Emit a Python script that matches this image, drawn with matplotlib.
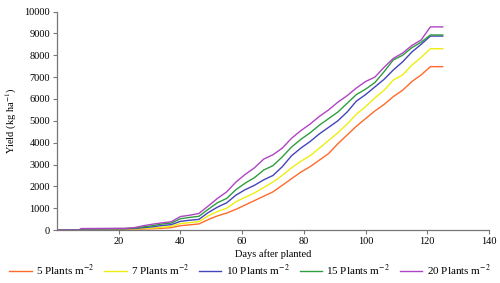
import matplotlib
matplotlib.use("Agg")
import matplotlib.pyplot as plt

days = [0, 7, 8, 22, 25, 28, 31, 34, 37, 40, 43, 46, 49, 52, 55, 58, 61, 64, 67, 70,
        73, 76, 79, 82, 85, 88, 91, 94, 97, 100, 103, 106, 109, 112, 115, 118, 121, 125]

p5 = [0, 0, 30, 40, 45, 50, 60, 80, 110, 200, 240, 280, 480, 650, 780, 950, 1150, 1350, 1550, 1750,
      2050, 2350, 2650, 2900, 3200, 3500, 3950, 4350, 4750, 5100, 5450, 5750, 6110, 6400, 6800, 7100, 7480, 7480]
p7 = [0, 0, 40, 50, 60, 75, 90, 130, 170, 300, 340, 390, 650, 850, 1000, 1300, 1500, 1700, 1950, 2200,
      2500, 2850, 3150, 3400, 3750, 4100, 4450, 4850, 5300, 5650, 6050, 6400, 6870, 7100, 7550, 7900, 8300, 8300]
p10 = [0, 0, 50, 60, 75, 110, 150, 210, 250, 400, 450, 490, 800, 1050, 1250, 1600, 1850, 2050, 2300, 2500,
       2900, 3400, 3750, 4050, 4400, 4700, 5000, 5400, 5900, 6200, 6550, 6900, 7330, 7700, 8150, 8500, 8880, 8880]
p15 = [0, 0, 60, 70, 90, 150, 200, 280, 320, 520, 580, 630, 950, 1250, 1450, 1850, 2150, 2400, 2750, 2950,
       3350, 3800, 4150, 4450, 4800, 5100, 5400, 5800, 6200, 6450, 6750, 7250, 7790, 8000, 8350, 8600, 8930, 8930]
p20 = [0, 0, 70, 80, 110, 200, 270, 330, 380, 620, 680, 760, 1100, 1450, 1750, 2200, 2550, 2850, 3250, 3450,
       3750, 4200, 4550, 4850, 5200, 5500, 5850, 6150, 6500, 6800, 7000, 7450, 7860, 8100, 8450, 8700, 9300, 9300]

labels = [r"5 Plants m$^{-2}$", r"7 Plants m$^{-2}$", r"10 Plants m$^{-2}$",
          r"15 Plants m$^{-2}$", r"20 Plants m$^{-2}$"]
colors = ["#ff6a2a", "#eeee10", "#4444bb", "#2e9e3e", "#b044c4"]
series = [p5, p7, p10, p15, p20]

xticks = [20, 40, 60, 80, 100, 120, 140]
yticks = list(range(0, 10001, 1000))

plt.rcParams["font.family"] = ["Liberation Serif", "DejaVu Serif"]
plt.rcParams["mathtext.fontset"] = "stix"

fig = plt.figure(figsize=(5.0, 2.83), dpi=100)
ax = fig.add_axes([0.114, 0.187, 0.864, 0.772])

for vals, c, lab in zip(series, colors, labels):
    ax.plot(days, vals, color=c, lw=1.0, label=lab)

ax.set_xlim(0, 140)
ax.set_ylim(0, 10000)
ax.set_xticks(xticks)
ax.set_yticks(yticks)
ax.tick_params(labelsize=7.5, length=3, width=0.8, color="#777777", pad=2)
for s in ["top", "right"]:
    ax.spines[s].set_visible(False)
for s in ["left", "bottom"]:
    ax.spines[s].set_color("#777777")
    ax.spines[s].set_linewidth(0.9)

ax.set_xlabel("Days after planted", fontsize=7.5, labelpad=2)
ax.set_ylabel(r"Yield (kg ha$^{-1}$)", fontsize=7.5, labelpad=4)

fig.legend(loc="center", bbox_to_anchor=(0.5, 0.045), ncol=5, frameon=False,
           fontsize=8, handlelength=2.0, columnspacing=0.9, handletextpad=0.4,
           borderpad=0.2, borderaxespad=0.1)

fig.savefig("out.png", dpi=100)
